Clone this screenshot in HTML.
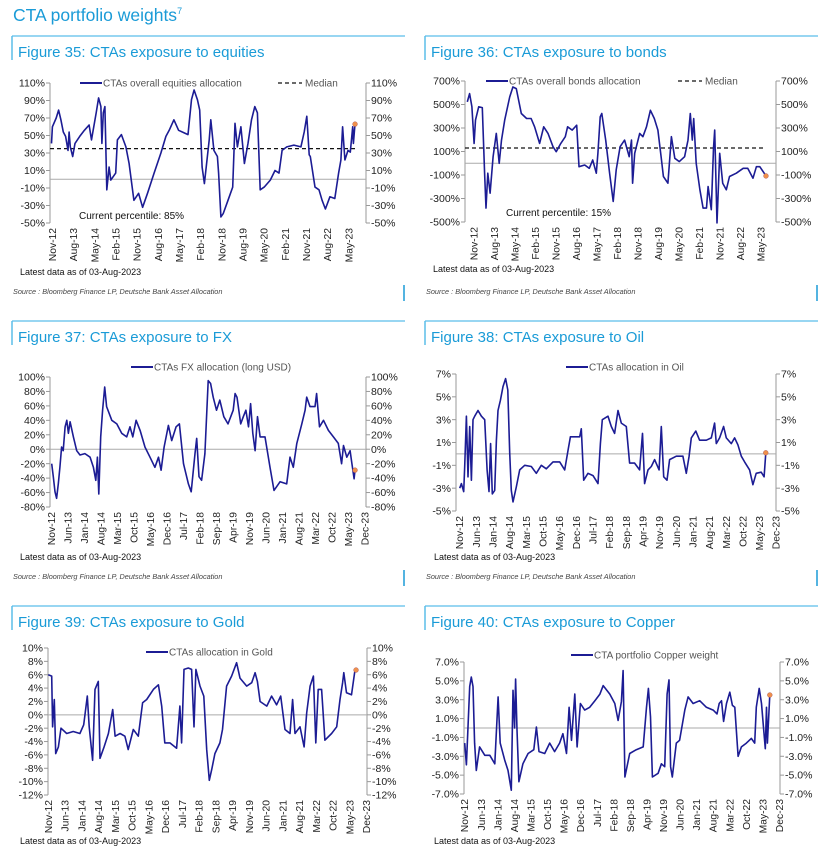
<!DOCTYPE html>
<html><head><meta charset="utf-8"><style>
html,body{margin:0;padding:0;background:#fff;}
svg{display:block;font-family:"Liberation Sans",sans-serif;}
</style></head><body>
<svg id="page" width="826" height="849" viewBox="0 0 826 849" xmlns="http://www.w3.org/2000/svg">
<text x="13" y="21" font-size="17.5" fill="#1a9bd7">CTA portfolio weights<tspan font-size="9" dy="-7">7</tspan></text>
</svg>
<script>
// ---------- data ----------
const labels9 = ["Nov-12","Aug-13","May-14","Feb-15","Nov-15","Aug-16","May-17","Feb-18","Nov-18","Aug-19","May-20","Feb-21","Nov-21","Aug-22","May-23"];
const labels7 = ["Nov-12","Jun-13","Jan-14","Aug-14","Mar-15","Oct-15","May-16","Dec-16","Jul-17","Feb-18","Sep-18","Apr-19","Nov-19","Jun-20","Jan-21","Aug-21","Mar-22","Oct-22","May-23","Dec-23"];

const eqMonths = [0,0.4,2,3,4,5,6,7,7.5,8,9,10,12,14,16,17,17.5,19,20,21,21.4,22,22.7,23.5,24.5,25.2,27.3,28,29.7,31.6,33,35,37,38.7,40.8,43.6,46.5,48.6,50,52,54,56.4,58,59.5,60.6,62,63,64,65,67,67.7,69,70.5,71,72,73,75,77,78,79,80.5,82,83.5,85,86.4,87.5,88.7,90.4,93,95,96.7,98,100,103,106,107.4,108.5,109.5,110,112,113.7,115,116.4,118.3,120.4,122,123,123.7,124.7,126,127,128,128.3,129];
const eqValues = [41,60,70,79,68,54,49,33,54,37,26,41,49,56,62,45,53,76,93,83,41,76,83,-12,14,-1,7,45,51,37,18,-24,-16,-32,-16,7,30,49,56,68,56,53,51,91,102,91,79,14,-5,45,68,33,26,7,-43,-39,-24,-9,64,37,60,18,41,68,83,76,-12,-9,-1,10,7,33,37,39,37,54,72,28,26,-9,-12,-24,-34,-20,-22,7,22,60,22,33,31,60,41,63];
const eqMedian = 35;

const bdMonths = [0,1,2,3,3.6,5,6.6,7.6,8.2,9,10,11.3,12.7,14,15,16.4,18.6,20,21.5,23.7,26,28,29.5,31.7,33.5,35.4,37.6,39,41,43,44,46,48,49,51.5,53.5,55,56.6,57.3,58.3,59,60.7,62.4,64,65.3,67,69,71,72,72.5,73.4,75.6,77,78.6,80.3,82,83.6,85,86,88,89.5,91,93,95.3,96.8,97.8,98.7,99.3,100.4,102,103.4,104.9,105.6,107,108,108.5,109.5,110.7,112,113.6,115,118,121,123,125.3,126.8,128.3,131];
const bdValues = [522,593,480,169,367,480,474,-85,-382,-85,-255,56,254,0,197,367,564,649,635,423,381,381,310,169,310,254,141,98,169,226,310,282,324,-29,-15,-43,28,-85,85,395,423,197,-85,-325,-57,141,197,56,197,-170,85,254,226,310,451,381,282,56,-113,-170,226,42,14,56,197,423,197,381,0,-226,-382,-382,-198,-395,127,282,-508,85,-170,-226,-113,-85,-43,-43,-127,-29,-29,-108];
const bdMedian = 130;

const fxMonths = [0,0.7,1.4,2.1,2.8,3.5,4.2,4.9,5.7,6.4,7.1,7.8,9.2,10.6,12,14.1,16.3,17.7,18.7,19.4,20,20.8,21.6,22.5,23.3,25.5,27.6,29.7,31.8,33.2,34.4,35.8,37.5,39.6,41.7,43.8,45.3,46.4,47.7,49.5,50.9,52.8,54.2,55.9,58,59.2,60.8,61.5,62.5,63.6,65,66.4,67.4,68.5,69.9,71.3,73,74.8,77,77.8,78.6,80.2,81.3,82.4,83.5,84.4,85.3,86.3,87.3,88.4,90.5,92.6,94.3,96.9,99.7,101.1,102.5,104,106.1,107.5,108.2,109.6,111.7,112.4,113.6,115.3,117.4,119.5,121.6,123,123.8,125.2,126.6,127.3,128.3,128.7];
const fxValues = [-20,-38,-59,-68,-48,-25,3,-2,31,40,22,38,17,-2,-8,-6,-11,-25,-43,-11,-62,17,54,86,59,40,35,22,17,31,17,40,26,3,-11,-25,-11,-29,3,33,12,31,35,-20,-48,-59,-6,15,-38,-43,-6,95,91,72,54,68,45,35,54,77,72,35,45,54,31,63,22,-2,45,17,17,-25,-57,-45,-48,-11,-25,8,35,54,72,59,59,77,31,40,26,17,8,-20,5,-11,-2,-18,-41,-29];

const oilMonths = [0,0.7,1.7,2.1,2.8,3.5,4.2,4.9,5.6,6.3,7.7,9.1,10.5,11.5,12.3,13,13.7,14.7,15.4,16.1,17.1,18.2,19.3,20.2,21,21.7,22.4,23.8,25.2,27.3,30.1,32.2,34.3,36.4,39.2,42,44.1,45.5,46.5,47.9,50.4,51.1,52.1,53.9,56,58.1,59.1,59.9,62.3,63.7,65.1,66.5,67.9,70,71.4,73.5,75.6,76.8,77.7,79.1,80.5,81.9,83.8,84.7,85.7,87.1,88.2,91,93.8,95.2,96.4,97.3,99.2,100.8,103.6,105.7,107.1,107.8,109.2,110.9,112,114.1,115.5,116.9,118.3,119.7,121.8,123.2,124.6,126.7,127.9,128.6];
const oilValues = [-3.0,-2.6,-3.3,-1.1,3.3,-2.0,2.4,-2.3,3.0,3.3,3.8,3.3,3.0,-1.4,-3.3,0.9,-3.5,-3.2,1.2,3.8,4.7,5.9,6.6,5.6,0.1,-3.2,-4.2,-2.9,-1.4,-1.0,-1.1,-1.7,-1.0,-1.3,-0.7,-0.7,-1.4,0.3,1.5,1.5,1.5,2.2,-2.3,-1.7,-1.9,-2.6,0.9,3.0,3.3,2.4,1.8,3.8,2.7,2.4,-0.8,-0.8,-1.4,1.8,-2.6,-1.4,-1.1,-0.5,-1.4,2.4,-2.0,-2.3,-0.5,-0.2,-0.2,-1.7,-0.2,1.4,2.0,1.2,1.2,1.4,2.7,0.9,1.4,2.4,1.4,0.9,1.4,0.8,-0.2,-0.7,-1.4,-2.7,-1.7,-1.6,-2.0,0.1];

const goldMonths = [0,1.4,1.8,2.5,3.1,4.2,5.3,7.7,10.4,13.2,14.8,16.3,17.1,18.5,19.5,20.9,21.6,23.3,25.1,26.9,27.9,30,32,33.4,35.5,37.6,39.4,41.1,43.9,46,47.4,48.7,50.8,53.6,55,55.7,56.7,58.5,59.9,60.9,61.7,63.4,65,66.2,67.3,68.3,69.6,71.7,72.8,74.5,76.6,78.7,80.1,82.9,85,86.4,87.4,88.5,91.3,93.3,95.4,97.1,98.9,101,102.1,103.1,105.2,106.9,108,109.4,110.8,111.8,112.8,114.2,115.6,118.4,120.5,121.9,123,123.5,124.6,126.7,128.1,128.6];
const goldValues = [6.0,5.8,-1.8,2.3,-5.8,-4.8,-2.0,-2.8,-2.5,-2.8,-1.5,2.8,-1.8,-6.8,3.8,5.0,-6.5,-4.8,-2.8,0.8,-3.2,-2.8,-3.2,-5.2,-2.2,-3.2,1.8,2.3,3.8,4.5,1.3,-4.2,-4.2,-5.0,1.3,-4.2,6.8,7.0,6.8,-1.8,6.8,4.3,2.8,-5.2,-9.8,-8.2,-5.8,-4.2,-2.2,4.3,5.8,7.8,5.5,4.3,4.8,6.3,5.0,2.0,1.3,2.8,1.5,2.8,-2.2,-2.8,2.3,-2.8,-1.8,-4.8,0.3,4.3,5.8,-4.2,3.8,3.8,-3.8,-2.8,-1.8,2.3,4.8,6.3,3.3,3.0,6.5,6.7];

const cuMonths = [0,0.7,1.4,2.1,2.8,3.5,4.2,4.9,6.3,8.5,10.6,12.7,14.1,15,16.9,18.3,19.7,20.4,21.1,21.5,22.1,22.9,24.6,26.8,29.2,30.3,31.4,33.8,35.9,38,40.1,41.5,43,44.1,45.1,46.5,47.5,48.9,50.7,52.8,55,57.1,58.5,61.3,63.4,64.8,66.2,66.9,67.7,69.7,72.5,75.4,76.8,77.6,78.5,79.3,81.7,83.1,84.5,85.5,86.3,87,87.7,89.4,90.8,93,94.4,96.5,99.3,102.1,105,106.6,107.5,108.5,109.4,110.6,112,113.1,114.1,115.5,116.9,119,121.1,122.5,123.2,124.4,125.4,126.3,127,127.5,127.9,128.9];
const cuValues = [-1.6,-3.9,0.1,4.4,5.4,4.4,-1.6,-4.5,-2.0,-2.9,-2.9,-3.8,3.3,-1.6,-3.4,-4.5,-6.6,4.0,0.0,5.2,-0.2,-5.7,-3.8,-2.7,-2.3,0.1,-2.5,-2.7,-1.6,-2.5,-1.6,-0.6,-2.7,2.2,-1.3,3.6,-2.0,2.6,1.9,2.2,2.9,3.6,4.5,3.6,2.6,0.8,2.8,6.1,-5.2,-2.7,-2.3,-2.0,2.2,4.2,1.2,-5.2,-4.8,-3.8,-4.1,3.6,5.1,-4.1,-5.2,-1.6,-1.3,1.9,3.3,2.6,2.9,2.2,1.9,1.5,2.6,2.9,0.7,2.6,3.8,2.4,2.2,-3.0,-2.0,-1.6,-1.1,-1.6,2.2,4.2,2.6,-0.2,-2.2,2.2,-1.6,3.5];

// ---------- layout ----------
const NS = "http://www.w3.org/2000/svg";
const svg = document.getElementById('page');
function mk(tag, attrs, parent){
  const e = document.createElementNS(NS, tag);
  for (const k in attrs) e.setAttribute(k, attrs[k]);
  (parent||svg).appendChild(e);
  return e;
}

function panel(px, top, right, title, srcY, name){
  const g = mk('g', {});
  
  
  mk('line', {x1:px, y1:top, x2:right, y2:top, stroke:'#5bbde9', 'stroke-width':1.2}, g);
  mk('line', {x1:px, y1:top, x2:px, y2:top+24, stroke:'#5bbde9', 'stroke-width':1.5}, g);
  const t = mk('text', {x:px+6, y:top+21, 'font-size':15, fill:'#1a9bd7'}, g);
  t.textContent = title;
  
  
  if (srcY){
    const s = mk('text', {x:px+1, y:srcY, 'font-size':7.3, 'font-style':'italic', fill:'#444'}, g);
    s.textContent = 'Source : Bloomberg Finance LP, Deutsche Bank Asset Allocation';
    
    
    mk('line', {x1:right-1, y1:srcY-9, x2:right-1, y2:srcY+7, stroke:'#1a9bd7', 'stroke-width':1.5}, g);
  }
  return g;
}

function chart(c, months, values, labels, name){
  const g = mk('g', {});
  
  
  const yS = v => c.yTop + (c.vTop - v) * (c.yBot - c.yTop) / (c.vTop - c.vBot);
  const xS = m => c.x0 + m * c.k;
  // axes
  mk('line', {x1:c.left, y1:c.yTop, x2:c.left, y2:c.yBot, stroke:'#999', 'stroke-width':1}, g);
  mk('line', {x1:c.right, y1:c.yTop, x2:c.right, y2:c.yBot, stroke:'#999', 'stroke-width':1}, g);
  for (let v = c.vTop; v >= c.vBot - 1e-9; v -= c.step){
    const y = yS(v);
    mk('line', {x1:c.left-4, y1:y, x2:c.left, y2:y, stroke:'#999'}, g);
    mk('line', {x1:c.right, y1:y, x2:c.right+4, y2:y, stroke:'#999'}, g);
    const lab = v.toFixed(c.dec) + '%';
    const tl = mk('text', {x:c.left-5, y:y+3.6, 'font-size':10.5, 'text-anchor':'end', fill:'#222'}, g);
    tl.textContent = lab;
    
    
    const tr = mk('text', {x:c.right+5, y:y+3.6, 'font-size':10.5, fill:'#222'}, g);
    tr.textContent = lab;
    
    
  }
  mk('line', {x1:c.left, y1:yS(0), x2:c.right, y2:yS(0), stroke:'#aaa', 'stroke-width':1}, g);
  // x labels
  labels.forEach((l, i) => {
    const x = xS(c.lOff + i * c.lStep);
    const t = mk('text', {x:0, y:0, 'font-size':10.3, 'text-anchor':'end', fill:'#222',
      transform:`translate(${x+3.5},${c.yBot+5}) rotate(-90)`}, g);
    t.textContent = l;
    
    
  });
  // median
  if (c.median !== undefined){
    const md = mk('line', {x1:c.left, y1:yS(c.median), x2:xS(months[months.length-1]), y2:yS(c.median), stroke:'#111', 'stroke-width':1.2, 'stroke-dasharray':'4,3'}, g);
    
    
  }
  // series
  const d = months.map((m, i) => (i ? 'L' : 'M') + xS(m).toFixed(1) + ',' + yS(values[i]).toFixed(1)).join('');
  const p = mk('path', {d, fill:'none', stroke:'#1c1c94', 'stroke-width':1.6, 'stroke-linejoin':'round'}, g);
  
  
  const last = months.length - 1;
  const dot = mk('circle', {cx:xS(months[last]), cy:yS(values[last]), r:2.4, fill:'#f0904a', stroke:'#b06060', 'stroke-width':0.5}, g);
  
  
  // legend
  mk('line', {x1:c.legX, y1:c.legY, x2:c.legX+22, y2:c.legY, stroke:'#1c1c94', 'stroke-width':2}, g);
  const lt = mk('text', {x:c.legX+23, y:c.legY+3.5, 'font-size':10, fill:'#555'}, g);
  lt.textContent = c.legend;
  
  
  if (c.medX){
    mk('line', {x1:c.medX, y1:c.legY, x2:c.medX+24, y2:c.legY, stroke:'#111', 'stroke-width':1.2, 'stroke-dasharray':'4,3'}, g);
    const mt = mk('text', {x:c.medX+27, y:c.legY+3.5, 'font-size':10, fill:'#555'}, g);
    mt.textContent = 'Median';
    
    
  }
  if (c.pct){
    const pt = mk('text', {x:c.pct[0], y:c.pct[1], 'font-size':10, fill:'#111'}, g);
    pt.textContent = c.pct[2];
    
    
  }
  const ld = mk('text', {x:c.ldX, y:c.ldY, 'font-size':9, fill:'#111'}, g);
  ld.textContent = 'Latest data as of 03-Aug-2023';
  
  
}

panel(12, 36, 405, 'Figure 35: CTAs exposure to equities', 294, 'figure-35-panel');
panel(425, 36, 818, 'Figure 36: CTAs exposure to bonds', 294, 'figure-36-panel');
panel(12, 321, 405, 'Figure 37: CTAs exposure to FX', 579, 'figure-37-panel');
panel(425, 321, 818, 'Figure 38: CTAs exposure to Oil', 579, 'figure-38-panel');
panel(12, 606, 405, 'Figure 39: CTAs exposure to Gold', 0, 'figure-39-panel');
panel(425, 606, 818, 'Figure 40: CTAs exposure to Copper', 0, 'figure-40-panel');

chart({left:50,right:366,yTop:83,yBot:223,vTop:110,vBot:-50,step:20,dec:0,x0:51.5,k:2.353,lOff:0.4,lStep:9,
  median:eqMedian,legX:80,legY:83,legend:'CTAs overall equities allocation',medX:278,pct:[79,219,'Current percentile: 85%'],ldX:20,ldY:275},
  eqMonths, eqValues, labels9, 'equities-chart');
chart({left:465,right:776,yTop:81,yBot:222,vTop:700,vBot:-500,step:200,dec:0,x0:467.3,k:2.28,lOff:2.9,lStep:9,
  median:bdMedian,legX:486,legY:81,legend:'CTAs overall bonds allocation',medX:678,pct:[506,216,'Current percentile: 15%'],ldX:433,ldY:272},
  bdMonths, bdValues, labels9, 'bonds-chart');
chart({left:50,right:366,yTop:377,yBot:507,vTop:100,vBot:-80,step:20,dec:0,x0:51.7,k:2.357,lOff:0,lStep:7,
  legX:131,legY:367,legend:'CTAs FX allocation (long USD)',ldX:20,ldY:560},
  fxMonths, fxValues, labels7, 'fx-chart');
chart({left:456,right:776,yTop:374,yBot:511,vTop:7,vBot:-5,step:2,dec:0,x0:459.7,k:2.38,lOff:0,lStep:7,
  legX:566,legY:367,legend:'CTAs allocation in Oil',ldX:434,ldY:560},
  oilMonths, oilValues, labels7, 'oil-chart');
chart({left:48,right:367,yTop:648,yBot:795,vTop:10,vBot:-12,step:2,dec:0,x0:48.3,k:2.393,lOff:0,lStep:7,
  legX:146,legY:652,legend:'CTAs allocation in Gold',ldX:20,ldY:844},
  goldMonths, goldValues, labels7, 'gold-chart');
chart({left:464,right:780,yTop:662,yBot:794,vTop:7,vBot:-7,step:2,dec:1,x0:464.7,k:2.367,lOff:0,lStep:7,
  legX:571,legY:655,legend:'CTA portfolio Copper weight',ldX:434,ldY:844},
  cuMonths, cuValues, labels7, 'copper-chart');
</script>
</body></html>
